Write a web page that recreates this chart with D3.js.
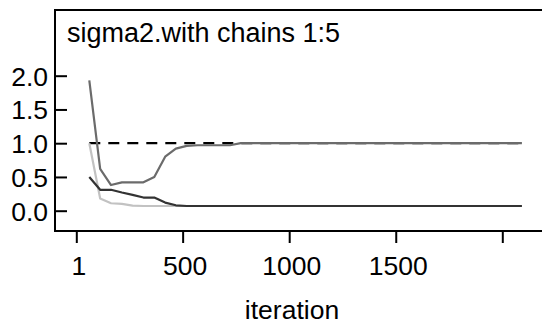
<!DOCTYPE html>
<html>
<head>
<meta charset="utf-8">
<script src="https://cdn.jsdelivr.net/npm/d3@7"></script>
<style>
  body { margin: 0; background: #fff; }
  svg { display: block; font-family: 'Liberation Sans', Arial, sans-serif; }
</style>
</head>
<body>
<svg></svg>
<script>
const SVG_WIDTH = 542;
const SVG_HEIGHT = 325;

// Thinned iterations that were kept for the trace.
const iterations = [
  62, 113, 164, 215, 265, 316, 367, 418, 468, 519, 570, 621, 671, 722,
  773, 824, 874, 925, 976, 1027, 1077, 1128, 1179, 1230, 1280, 1331,
  1382, 1433, 1483, 1534, 1585, 1636, 1686, 1737, 1788, 1839, 1889,
  1940, 1991, 2042, 2092
];

// One array per chain.
const chainDashed = [
  1, 1, 1, 1, 1, 1, 1, 1, 1, 1, 1, 1, 1, 1, 1, 1, 1, 1, 1, 1, 1,
  1, 1, 1, 1, 1, 1, 1, 1, 1, 1, 1, 1, 1, 1, 1, 1, 1, 1, 1, 1
];
const chainLight = [
  1.0, 0.18, 0.11, 0.1, 0.075, 0.07, 0.07, 0.07, 0.07, 0.07, 0.07,
  0.07, 0.07, 0.07, 0.07, 0.07, 0.07, 0.07, 0.07, 0.07, 0.07, 0.07,
  0.07, 0.07, 0.07, 0.07, 0.07, 0.07, 0.07, 0.07, 0.07, 0.07, 0.07,
  0.07, 0.07, 0.07, 0.07, 0.07, 0.07, 0.07, 0.07
];
const chainDark = [
  0.5, 0.31, 0.31, 0.27, 0.235, 0.195, 0.195, 0.12, 0.08, 0.07, 0.07,
  0.07, 0.07, 0.07, 0.07, 0.07, 0.07, 0.07, 0.07, 0.07, 0.07, 0.07,
  0.07, 0.07, 0.07, 0.07, 0.07, 0.07, 0.07, 0.07, 0.07, 0.07, 0.07,
  0.07, 0.07, 0.07, 0.07, 0.07, 0.07, 0.07, 0.07
];
const chainMid = [
  1.93, 0.62, 0.38, 0.42, 0.42, 0.42, 0.5, 0.8, 0.92, 0.96, 0.97,
  0.97, 0.97, 0.97, 1, 1, 1, 1, 1, 1, 1, 1, 1, 1, 1, 1, 1, 1, 1, 1,
  1, 1, 1, 1, 1, 1, 1, 1, 1, 1, 1
];

const xTicks = [1, 500, 1000, 1500, 2000];
const xTickLabels = ['1', '500', '1000', '1500', ''];
const yTicks = [0, 0.5, 1, 1.5, 2];

const svg = d3
  .select('svg')
  .attr('width', SVG_WIDTH)
  .attr('height', SVG_HEIGHT)
  .attr('viewBox', `0 0 ${SVG_WIDTH} ${SVG_HEIGHT}`);

const x = d3.scaleLinear().domain([1, 2000]).range([76.3, 502.3]);
const y = d3.scaleLinear().domain([0, 2]).range([210.7, 75.7]);

// Panel box (runs off the right side like the original).
const box = {left: 55, top: 10, right: 546, bottom: 231};

const line = d3
  .line()
  .x((d, i) => x(iterations[i]))
  .y(d => y(d));

// Chains, drawn in order so the mid grey covers the dashed one.
const chains = [
  {values: chainDashed, color: '#000', dash: '11,8'},
  {values: chainLight, color: '#c2c2c2', dash: null},
  {values: chainDark, color: '#333', dash: null},
  {values: chainMid, color: '#6b6b6b', dash: null}
];

svg
  .selectAll('path.chain')
  .data(chains)
  .enter()
  .append('path')
  .attr('class', 'chain')
  .attr('d', d => line(d.values))
  .attr('fill', 'none')
  .attr('stroke', d => d.color)
  .attr('stroke-width', 2.2)
  .attr('stroke-dasharray', d => d.dash)
  .attr('stroke-linejoin', 'round');

svg
  .append('rect')
  .attr('x', box.left)
  .attr('y', box.top)
  .attr('width', box.right - box.left)
  .attr('height', box.bottom - box.top)
  .attr('fill', 'none')
  .attr('stroke', '#000')
  .attr('stroke-width', 2);

// Y axis: ticks point into the panel, labels to the left.
const yAxis = svg
  .append('g')
  .attr('transform', `translate(${box.left},0)`)
  .call(
    d3.axisRight(y)
      .tickValues(yTicks)
      .tickFormat(d3.format('.1f'))
      .tickSize(12)
  );
yAxis.select('.domain').remove();
yAxis.selectAll('line').attr('stroke', '#000').attr('stroke-width', 2);
yAxis
  .selectAll('text')
  .attr('x', -7)
  .attr('dy', '0.36em')
  .attr('text-anchor', 'end')
  .attr('font-size', 26.5)
  .attr('fill', '#000')
  .attr('font-family', null);

// X axis below the panel.
const xAxis = svg
  .append('g')
  .attr('transform', `translate(0,${box.bottom})`)
  .call(
    d3.axisBottom(x)
      .tickValues(xTicks)
      .tickFormat((d, i) => xTickLabels[i])
      .tickSize(12)
  );
xAxis.select('.domain').remove();
xAxis.selectAll('line').attr('stroke', '#000').attr('stroke-width', 2);
xAxis
  .selectAll('text')
  .attr('y', 44)
  .attr('dy', 0)
  .attr('dx', 2)
  .attr('font-size', 26.5)
  .attr('fill', '#000')
  .attr('font-family', null);

svg
  .append('text')
  .attr('x', 292)
  .attr('y', 319)
  .attr('text-anchor', 'middle')
  .attr('font-size', 26.5)
  .text('iteration');

svg
  .append('text')
  .attr('x', 67)
  .attr('y', 42)
  .attr('font-size', 27)
  .text('sigma2.with chains 1:5');
</script>
</body>
</html>
